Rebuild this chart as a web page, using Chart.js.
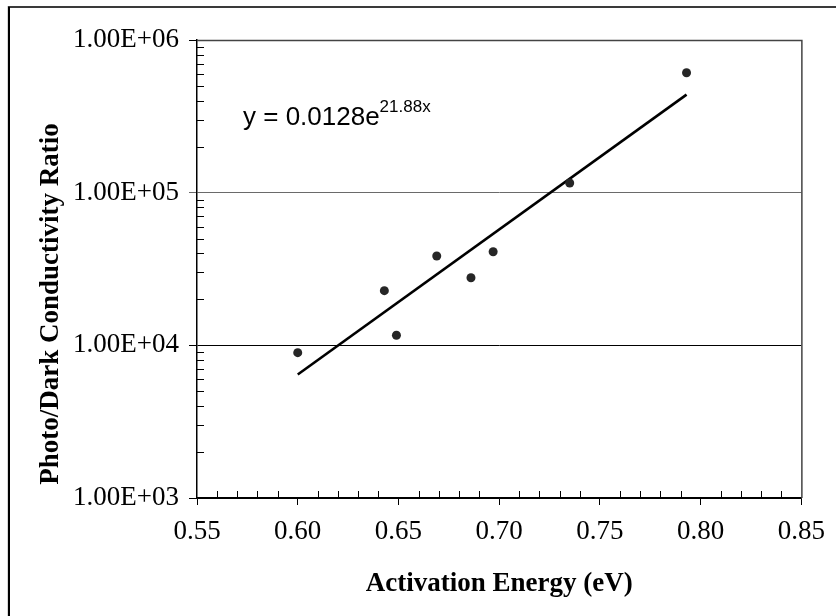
<!DOCTYPE html>
<html>
<head>
<meta charset="utf-8">
<script src="https://cdn.jsdelivr.net/npm/chart.js@4/dist/chart.umd.min.js"></script>
<style>
html,body{margin:0;padding:0;background:#fff;}
#wrap{width:836px;height:616px;position:relative;}
</style>
</head>
<body>
<div id="wrap"><canvas id="c" width="836" height="616"></canvas></div>
<script>
// ---- data ----
const activationEnergy = [0.600, 0.643, 0.649, 0.669, 0.686, 0.697, 0.735, 0.793];
const conductivityRatio = [8950, 22800, 11650, 38500, 27700, 41000, 115700, 610700];
const trendX = [0.600, 0.793];
const trendY = [6440, 439000];
const xTicks = [0.55, 0.60, 0.65, 0.70, 0.75, 0.80, 0.85];
const yTicks = [1000, 10000, 100000, 1000000];
const yTickLabels = ['1.00E+03', '1.00E+04', '1.00E+05', '1.00E+06'];
const xTitle = 'Activation Energy (eV)';
const yTitle = 'Photo/Dark Conductivity Ratio';
const eqMain = 'y = 0.0128e';
const eqSup = '21.88x';

const SERIF = '"Liberation Serif", "Times New Roman", serif';
const SANS = '"Liberation Sans", Arial, sans-serif';

const scatterData = activationEnergy.map((x, i) => ({x: x, y: conductivityRatio[i]}));
const trendData = trendX.map((x, i) => ({x: x, y: trendY[i]}));

const decor = {
  id: 'decor',
  beforeDraw(chart) {
    const ctx = chart.ctx;
    ctx.save();
    ctx.fillStyle = '#fff';
    ctx.fillRect(0, 0, chart.width, chart.height);
    // outer frame (top and left visible)
    ctx.fillStyle = '#d8d8d8';
    ctx.fillRect(7, 6, 1, chart.height);
    ctx.fillStyle = '#3a3a3a';
    ctx.fillRect(8, 6, chart.width, 2);
    ctx.fillStyle = '#000';
    ctx.fillRect(8, 7, 2, chart.height);
    ctx.restore();
  },
  afterDraw(chart) {
    const ctx = chart.ctx;
    const a = chart.chartArea;
    const xs = chart.scales.x, ys = chart.scales.y;
    ctx.save();
    // plot border top/right
    ctx.strokeStyle = '#444';
    ctx.lineWidth = 1.5;
    ctx.beginPath();
    ctx.moveTo(a.left, a.top + 0.5);
    ctx.lineTo(a.right + 0.5, a.top + 0.5);
    ctx.lineTo(a.right + 0.5, a.bottom);
    ctx.stroke();
    // minor ticks (inward)
    ctx.strokeStyle = '#000';
    ctx.lineWidth = 1;
    ctx.beginPath();
    for (let d = 0; d < yTicks.length - 1; d++) {
      for (let m = 2; m <= 9; m++) {
        const py = Math.round(ys.getPixelForValue(yTicks[d] * m)) + 0.5;
        ctx.moveTo(a.left, py);
        ctx.lineTo(a.left + 7, py);
      }
    }
    for (let i = 0; i < xTicks.length - 1; i++) {
      for (let k = 1; k < 5; k++) {
        const px = Math.round(xs.getPixelForValue(xTicks[i] + k * 0.01)) + 0.5;
        ctx.moveTo(px, a.bottom);
        ctx.lineTo(px, a.bottom - 7);
      }
    }
    ctx.stroke();
    // axis titles
    ctx.fillStyle = '#000';
    ctx.font = 'bold 27px ' + SERIF;
    ctx.textAlign = 'center';
    ctx.textBaseline = 'alphabetic';
    ctx.fillText(xTitle, (a.left + a.right) / 2, 591);
    ctx.save();
    ctx.translate(58, 304);
    ctx.rotate(-Math.PI / 2);
    ctx.fillText(yTitle, 0, 0);
    ctx.restore();
    // trendline equation
    const ex = a.left + 46, ey = 125;
    ctx.textAlign = 'left';
    ctx.font = '26px ' + SANS;
    ctx.fillText(eqMain, ex, ey);
    const w = ctx.measureText(eqMain).width;
    ctx.font = '17px ' + SANS;
    ctx.fillText(eqSup, ex + w, ey - 13);
    ctx.restore();
  }
};

new Chart(document.getElementById('c'), {
  type: 'scatter',
  data: {
    datasets: [
      {
        label: 'Trend',
        data: trendData,
        showLine: true,
        borderColor: '#000',
        borderWidth: 2.6,
        pointRadius: 0,
        fill: false,
        order: 2
      },
      {
        label: 'Ratio',
        data: scatterData,
        pointRadius: 4.5,
        pointBackgroundColor: '#262626',
        pointBorderColor: '#262626',
        pointBorderWidth: 0,
        showLine: false,
        order: 1
      }
    ]
  },
  options: {
    responsive: false,
    animation: false,
    devicePixelRatio: 1,
    layout: {padding: {top: 40, right: 26, left: 0, bottom: 0}},
    plugins: {legend: {display: false}, tooltip: {enabled: false}, title: {display: false}},
    scales: {
      x: {
        type: 'linear',
        min: 0.55, max: 0.85,
        afterBuildTicks: s => { s.ticks = xTicks.map(v => ({value: v})); },
        afterFit: s => { s.height = 118; },
        ticks: {
          callback: v => v.toFixed(2),
          font: {family: SERIF, size: 27},
          color: '#000',
          padding: 11,
          maxRotation: 0,
          autoSkip: false
        },
        grid: {drawOnChartArea: false, drawTicks: true, tickLength: 7, color: '#000', lineWidth: 1},
        border: {display: true, color: '#000', width: 1.5}
      },
      y: {
        type: 'logarithmic',
        min: 1000, max: 1000000,
        afterBuildTicks: s => { s.ticks = yTicks.map(v => ({value: v})); },
        afterFit: s => { s.width = 197; },
        ticks: {
          callback: (v, i) => yTickLabels[i],
          font: {family: SERIF, size: 27},
          color: '#000',
          padding: 10,
          autoSkip: false
        },
        grid: {
          drawOnChartArea: true, drawTicks: true, tickLength: 8,
          color: ctx => (ctx.tick && ctx.tick.value === 100000) ? '#6a6a6a' : '#000',
          lineWidth: 1
        },
        border: {display: true, color: '#000', width: 1.5}
      }
    }
  },
  plugins: [decor]
});
</script>
</body>
</html>
